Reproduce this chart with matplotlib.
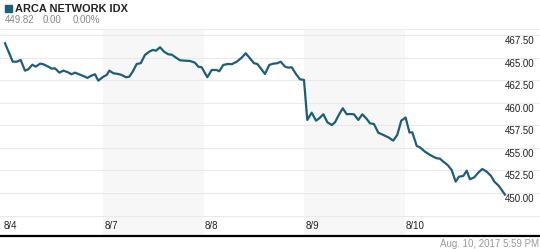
import matplotlib.pyplot as plt
import matplotlib.transforms as mtransforms

plt.rcParams['font.family'] = ['Liberation Sans', 'DejaVu Sans']

# time in trading days since 8/4 open, index value
t = [0.02, 0.097, 0.136, 0.176, 0.219, 0.252, 0.292, 0.326, 0.369, 0.401,
     0.451, 0.485, 0.518, 0.561, 0.601, 0.640, 0.684, 0.717, 0.767, 0.817,
     0.840, 0.873, 0.916, 0.949, 0.999,
     1.033, 1.059, 1.099, 1.148, 1.182, 1.225, 1.258, 1.292, 1.332, 1.372,
     1.414, 1.457, 1.491, 1.524, 1.564, 1.604, 1.646, 1.680, 1.723, 1.763,
     1.813, 1.863, 1.912, 1.945, 1.979,
     2.035, 2.079, 2.128, 2.154, 2.194, 2.244, 2.278, 2.328, 2.378, 2.417,
     2.460, 2.500, 2.533, 2.567, 2.610, 2.652, 2.692, 2.732, 2.766, 2.809,
     2.842, 2.876, 2.918, 2.958, 2.998,
     3.031, 3.075, 3.118, 3.151, 3.191, 3.231, 3.275, 3.307, 3.350, 3.384,
     3.424, 3.456, 3.496, 3.539, 3.579, 3.623, 3.655, 3.695, 3.738, 3.788,
     3.838, 3.887, 3.927, 3.967, 4.010,
     4.049, 4.077, 4.121, 4.153, 4.203, 4.243, 4.286, 4.320, 4.353, 4.386,
     4.429, 4.469, 4.509, 4.542, 4.585, 4.619, 4.651, 4.694, 4.734, 4.774,
     4.818, 4.861, 4.894, 4.940, 5.000]
price = [466.58, 464.54, 464.54, 464.73, 463.55, 463.70, 464.21, 463.99, 464.32, 464.26,
         463.99, 463.77, 463.81, 463.33, 463.55, 463.40, 463.15, 463.33, 463.10, 462.88,
         462.74, 462.96, 463.15, 462.44, 462.88,
         463.07, 463.55, 463.26, 463.18, 463.07, 462.82, 462.88, 463.44, 464.29, 464.37,
         465.29, 465.65, 465.84, 465.76, 466.14, 465.65, 465.36, 465.32, 464.99, 464.70,
         464.65, 464.62, 464.43, 463.99, 463.92,
         462.82, 463.62, 463.62, 463.48, 464.18, 464.29, 464.26, 464.54, 464.99, 465.47,
         464.92, 464.37, 464.29, 463.81, 463.18, 464.18, 464.32, 464.37, 464.54, 463.99,
         463.88, 463.92, 463.18, 462.59, 462.52,
         458.09, 458.90, 458.01, 458.28, 458.72, 457.83, 457.53, 457.83, 458.75, 459.38,
         458.72, 458.75, 458.72, 458.09, 458.72, 458.20, 457.72, 457.64, 456.68, 456.43,
         456.17, 455.80, 456.43, 458.01, 458.36,
         456.70, 456.72, 455.21, 455.06, 454.58, 454.29, 454.02, 453.85, 453.80, 453.47,
         453.10, 452.55, 451.26, 451.81, 451.89, 452.47, 451.52, 451.74, 452.25, 452.66,
         452.36, 451.89, 451.26, 450.78, 449.82]

day_labels = ['8/4', '8/7', '8/8', '8/9', '8/10']
day_starts = [0, 1, 2, 3, 4]
shaded_days = [1, 3]
grid_levels = [447.5, 450.0, 452.5, 455.0, 457.5, 460.0, 462.5, 465.0, 467.5]
labeled_levels = [450.0, 452.5, 455.0, 457.5, 460.0, 462.5, 465.0, 467.5]

line_color = '#1d5e78'

fig = plt.figure(figsize=(5.4, 2.49), dpi=100)
ax = fig.add_axes([0, 1 - 236 / 249, 1, (236 - 29) / 249])
ax.set_xlim(-0.03, 5.349)
ax.set_ylim(445.24, 468.16)

for d in shaded_days:
    ax.axvspan(d, d + 1, color='#f7f7f7', zorder=0, lw=0)
for g in grid_levels:
    ax.axhline(g, color='#e9e9e9', lw=0.8, zorder=1)

ax.plot(t, price, color=line_color, lw=1.6, zorder=3, solid_joinstyle='round')

ax.set_xticks([])
ax.set_yticks([])
for s in ['left', 'right']:
    ax.spines[s].set_visible(False)
ax.spines['top'].set_color('#ececec')
ax.spines['top'].set_linewidth(0.8)
ax.spines['bottom'].set_color('black')
ax.spines['bottom'].set_linewidth(1.6)

ytrans = mtransforms.offset_copy(ax.get_yaxis_transform(), fig=fig, x=-6, y=-6, units='dots')
for g in labeled_levels:
    ax.text(1.0, g, f'{g:.2f}', transform=ytrans, ha='right', va='center',
            fontsize=7, color='#222222')

xtrans = mtransforms.offset_copy(ax.get_xaxis_transform(), fig=fig, x=1, y=5, units='dots')
for d, lab in zip(day_starts, day_labels):
    ax.text(d, 0, lab, transform=xtrans, ha='left', va='bottom', fontsize=7, color='#222222')

# header
fig.patches.append(plt.Rectangle((5 / 540, 1 - 12 / 249), 7 / 540, 7 / 249,
                                 transform=fig.transFigure, color=line_color))
fig.text(15 / 540, 1 - 9 / 249, 'ARCA NETWORK IDX', fontsize=7.9, fontweight='bold',
         color='#222222', va='center', ha='left')
fig.text(5 / 540, 1 - 20 / 249, '449.82', fontsize=7, color='#888888', va='center')
fig.text(43 / 540, 1 - 20 / 249, '0.00', fontsize=7, color='#888888', va='center')
fig.text(73 / 540, 1 - 20 / 249, '0.00%', fontsize=7, color='#888888', va='center')

fig.text(539 / 540, 1 - 244 / 249, 'Aug. 10, 2017 5:59 PM', fontsize=7, color='#999999',
         ha='right', va='center')

fig.savefig('out.png', dpi=100)
